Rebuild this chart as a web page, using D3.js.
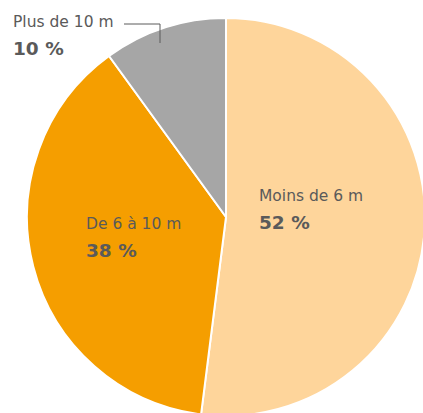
<!DOCTYPE html>
<html>
<head>
<meta charset="utf-8">
<script src="https://cdn.jsdelivr.net/npm/d3@7"></script>
<style>
  body { margin: 0; background: #fff; }
  svg { display: block; font-family: "DejaVu Sans", sans-serif; }
</style>
</head>
<body>
<svg id="chart" width="423" height="413"></svg>
<script>
const categories = ["Moins de 6 m", "De 6 à 10 m", "Plus de 10 m"];
const values = [52, 38, 10];
const colors = ["#FED59B", "#F59E00", "#A6A6A6"];

const cx = 226, cy = 217, radius = 199;

const svg = d3.select("#chart");
const g = svg.append("g").attr("transform", `translate(${cx},${cy})`);

const data = categories.map((c, i) => ({ name: c, value: values[i], color: colors[i] }));

const pie = d3.pie().sort(null).value(d => d.value);
const arc = d3.arc().innerRadius(0).outerRadius(radius);

g.selectAll("path")
  .data(pie(data))
  .enter().append("path")
  .attr("d", arc)
  .attr("fill", d => d.data.color)
  .attr("stroke", "#fff")
  .attr("stroke-width", 2);

// label positions (svg coords)
const labelPos = [
  { x: 259, y: 201 },
  { x: 86, y: 229 },
  { x: 13, y: 27 }
];

data.forEach((d, i) => {
  const p = labelPos[i];
  svg.append("text")
    .attr("x", p.x).attr("y", p.y)
    .attr("fill", "#5a5a5a")
    .attr("font-size", 15.5)
    .text(d.name);
  svg.append("text")
    .attr("x", p.x).attr("y", p.y + 27.5)
    .attr("fill", "#5a5a5a")
    .attr("font-size", 18.5)
    .attr("font-weight", "bold")
    .text(d.value + " %");
});

// leader line for the small slice
svg.append("path")
  .attr("d", "M124,24 H160 V43")
  .attr("fill", "none")
  .attr("stroke", "#5a5a5a")
  .attr("stroke-width", 1);
</script>
</body>
</html>
